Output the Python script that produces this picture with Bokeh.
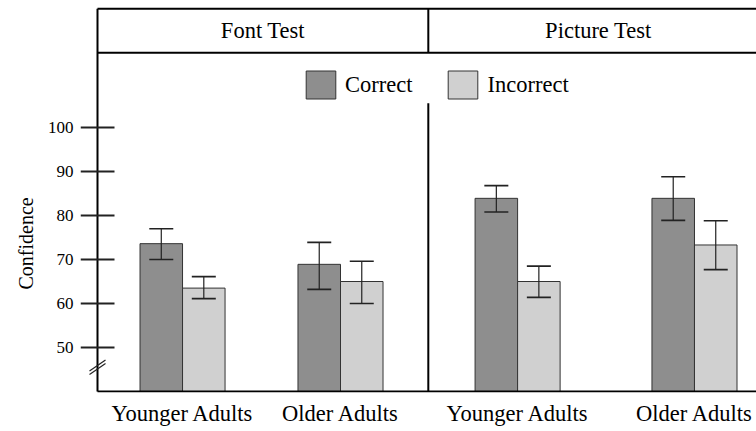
from bokeh.plotting import figure
from bokeh.models import (ColumnDataSource, Range1d, FixedTicker, Whisker, TeeHead,
                          Legend, LegendItem, Title)
from bokeh.core.properties import value
from bokeh.embed import file_html
from bokeh.resources import INLINE

# ---- data ----
tests = ["Font Test", "Picture Test"]
ages = ["Younger Adults", "Older Adults"]
correct_mean = [73.6, 68.9, 83.9, 83.9]
correct_upper = [77.0, 73.9, 86.8, 88.8]
correct_lower = [70.0, 63.2, 80.8, 78.9]
incorrect_mean = [63.5, 65.0, 65.0, 73.3]
incorrect_upper = [66.1, 69.6, 68.5, 78.8]
incorrect_lower = [61.1, 60.0, 61.4, 67.7]
y_ticks = [50, 60, 70, 80, 90, 100]
y_label = "Confidence"

# ---- layout constants ----
PANEL_W = [7.78, 8.0]              # in bar-width units
GROUP_OFF = [[2.0, 5.715], [2.10, 6.26]]
BAR_W = 1.0
SERIF = "Liberation Serif"
BIG = "22.5px"
TICK_LEN = 17                      # px, on each side of the axis line

panel_start = [0.0, PANEL_W[0]]
centers, labels = [], []
for ti in range(len(tests)):
    for ai in range(len(ages)):
        centers.append(panel_start[ti] + GROUP_OFF[ti][ai])
        labels.append(ages[ai])

W, H = 756, 431
AXIS_X = 97                       # page x of the y-axis line
B_LEFT, B_TOP, B_BOTTOM = AXIS_X - TICK_LEN, 6, 39
px_x = 42.52
px_y = 4.4
frame_h = H - B_TOP - B_BOTTOM
y_min = 40
y_start = y_min - 1 / px_y
y_end = y_start + frame_h / px_y
x_start = -TICK_LEN / px_x
x_stop = (W - AXIS_X) / px_x

p = figure(width=W, height=H, output_backend="svg", toolbar_location=None,
           x_range=Range1d(x_start, x_stop), y_range=Range1d(y_start, y_end),
           min_border_left=B_LEFT, min_border_right=0, min_border_top=B_TOP,
           min_border_bottom=B_BOTTOM)
p.outline_line_color = None
p.xgrid.visible = False
p.ygrid.visible = False

src_c = ColumnDataSource(dict(x=[c - BAR_W / 2 for c in centers], top=correct_mean,
                              up=correct_upper, lo=correct_lower))
src_i = ColumnDataSource(dict(x=[c + BAR_W / 2 for c in centers], top=incorrect_mean,
                              up=incorrect_upper, lo=incorrect_lower))

r_c = p.vbar(x="x", top="top", bottom=y_min, width=BAR_W, source=src_c,
             fill_color="#8e8e8e", line_color="#333333", line_width=1)
r_i = p.vbar(x="x", top="top", bottom=y_min, width=BAR_W, source=src_i,
             fill_color="#d0d0d0", line_color="#333333", line_width=1)

for src in (src_c, src_i):
    w = Whisker(base="x", upper="up", lower="lo", source=src, level="overlay",
                line_color="#222222", line_width=1.2,
                upper_head=TeeHead(size=24, line_color="#222222", line_width=1.6),
                lower_head=TeeHead(size=24, line_color="#222222", line_width=1.6))
    p.add_layout(w)

# header strip, panel divider, axis lines drawn in the frame
hdr_top = 127.0
hdr_bot = 117.0
x_end = panel_start[1] + PANEL_W[1]
p.segment(x0=[0, 0, 0], y0=[hdr_top, hdr_bot, y_min], x1=[x_end, x_end, x_end],
          y1=[hdr_top, hdr_bot, y_min], line_color="black", line_width=2)
p.segment(x0=[0, panel_start[1], panel_start[1]], y0=[y_min, hdr_bot, y_min],
          x1=[0, panel_start[1], panel_start[1]], y1=[hdr_top, hdr_top, 105.5],
          line_color="black", line_width=2)
p.text(x=[panel_start[i] + PANEL_W[i] / 2 for i in range(2)], y=[(hdr_top + hdr_bot) / 2] * 2,
       text=tests, text_align="center", text_baseline="middle",
       text_font=value(SERIF), text_font_size=BIG, text_color="black")

# y ticks crossing the axis line
tl = TICK_LEN / px_x
p.segment(x0=[-tl] * len(y_ticks), x1=[tl] * len(y_ticks), y0=y_ticks, y1=y_ticks,
          line_color="#222222", line_width=1.8)

# axis break mark: two short slanted strokes across the axis
BREAK_Y = 45.5
bdx, bdy, gap = 8 / px_x, 5.5 / px_y, 1.7 / px_y
p.segment(x0=[-bdx, -bdx], y0=[BREAK_Y - bdy - gap, BREAK_Y - bdy + gap],
          x1=[bdx, bdx], y1=[BREAK_Y + bdy - gap, BREAK_Y + bdy + gap],
          line_color="#222222", line_width=1.2)

# axes (labels only; lines drawn above)
p.yaxis.ticker = FixedTicker(ticks=y_ticks)
p.yaxis.major_label_text_font = SERIF
p.yaxis.major_label_text_font_size = "17px"
p.yaxis.major_label_text_color = "black"
p.yaxis.major_label_standoff = 7
p.yaxis.major_tick_in = 0
p.yaxis.major_tick_out = 0
p.yaxis.minor_tick_line_color = None
p.yaxis.axis_line_color = None

p.add_layout(Title(text=y_label, align="left", offset=103, standoff=16,
                   text_font=SERIF, text_font_size="20px", text_font_style="normal",
                   text_color="black"), "left")

p.xaxis.ticker = FixedTicker(ticks=centers)
p.xaxis.major_label_overrides = {c: l for c, l in zip(centers, labels)}
p.xaxis.major_label_text_font = SERIF
p.xaxis.major_label_text_font_size = BIG
p.xaxis.major_label_text_color = "black"
p.xaxis.major_label_standoff = 8
p.xaxis.major_tick_in = 0
p.xaxis.major_tick_out = 0
p.xaxis.minor_tick_line_color = None
p.xaxis.axis_line_color = None

legend = Legend(items=[LegendItem(label="Correct", renderers=[r_c]),
                       LegendItem(label="Incorrect", renderers=[r_i])],
                orientation="horizontal", location=(205 + TICK_LEN, 290),
                padding=0, margin=0, spacing=32, label_standoff=6,
                glyph_width=37, glyph_height=35,
                label_text_font=SERIF, label_text_font_size=BIG, label_text_color="black",
                border_line_color=None, background_fill_alpha=0)
p.add_layout(legend)

open("out.html", "w").write(file_html(p, INLINE))
